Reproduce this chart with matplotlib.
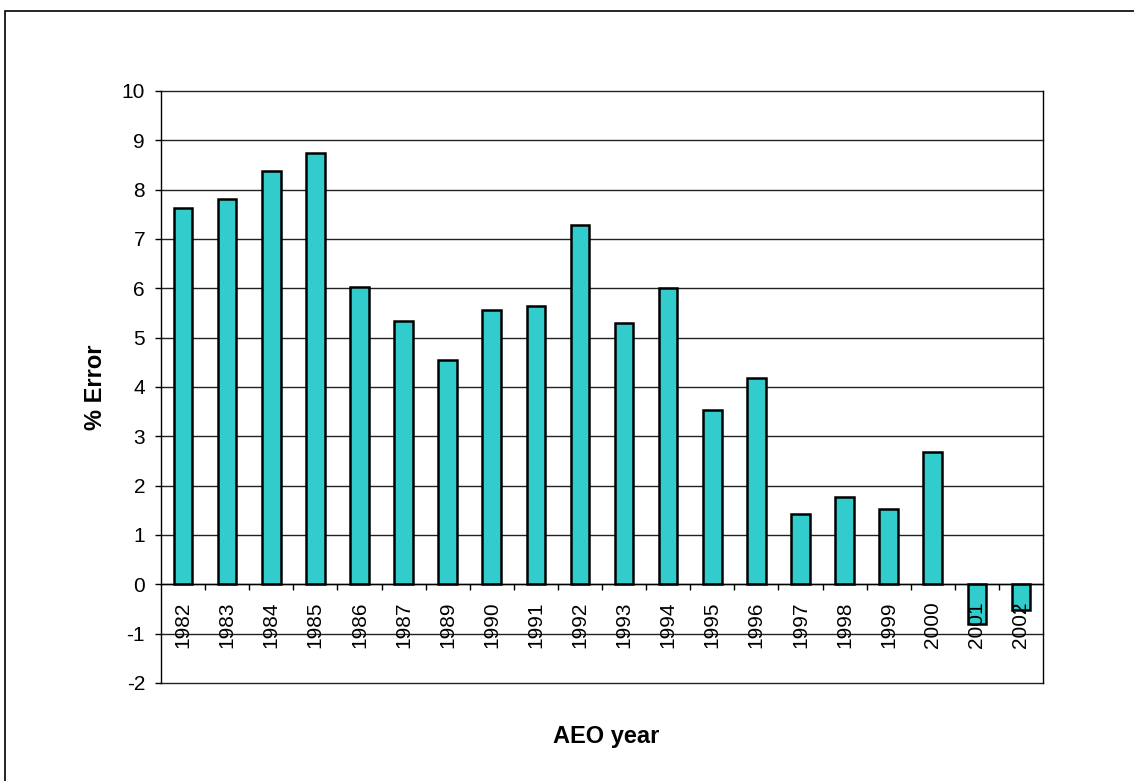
import matplotlib.pyplot as plt
import numpy as np
from matplotlib.patches import Rectangle

years = ['1982', '1983', '1984', '1985', '1986', '1987', '1989', '1990', '1991', '1992',
         '1993', '1994', '1995', '1996', '1997', '1998', '1999', '2000', '2001', '2002']
errors = [7.62, 7.82, 8.38, 8.74, 6.03, 5.33, 4.55, 5.56, 5.64, 7.29,
          5.30, 6.01, 3.53, 4.19, 1.43, 1.78, 1.53, 2.69, -0.80, -0.52]

plt.rcParams['font.family'] = ['Liberation Sans', 'DejaVu Sans']
plt.rcParams['axes.unicode_minus'] = False

fig = plt.figure(figsize=(11.34, 7.81), dpi=100)
ax = fig.add_axes([161 / 1134, 1 - 683 / 781, 882 / 1134, 592 / 781])

# outer chart border
fig.patches.append(Rectangle((5 / 1134, -0.1), 1.2, 1 - 11 / 781 + 0.1,
                             transform=fig.transFigure, fill=False,
                             edgecolor='black', linewidth=1.2))

ax.set_xlim(-0.5, len(years) - 0.5)
ax.set_ylim(-2, 10)
ax.set_yticks(range(-2, 11))

# gridlines drawn by hand so they sit under the bars, tick labels above
for v in range(-2, 11):
    ax.axhline(v, color='#222222', linewidth=1, zorder=1, clip_on=False)

x = np.arange(len(years))
ax.bar(x, errors, width=0.42, color='#33CCCC', edgecolor='black', linewidth=1.8, zorder=2)

ax.spines['top'].set_visible(False)
ax.spines['bottom'].set_position(('data', 0))
for s in ['bottom', 'left', 'right']:
    ax.spines[s].set_linewidth(1)

ax.set_xticks(x)
ax.set_xticklabels(years, rotation=90, fontsize=15)
ax.set_xticks(np.arange(0.5, len(years) - 0.5), minor=True)
ax.tick_params(axis='x', which='major', length=0, pad=12.5)
ax.tick_params(axis='x', which='minor', length=4.5, width=1, direction='out')
ax.tick_params(axis='y', length=4.5, width=1, direction='out', labelsize=15, pad=7)
ax.xaxis.set_zorder(3)

fig.text(95 / 1134, 1 - 387 / 781, '% Error', rotation=90, fontsize=17,
         fontweight='bold', ha='center', va='center')
fig.text(606 / 1134, 1 - 736 / 781, 'AEO year', fontsize=17,
         fontweight='bold', ha='center', va='center')

fig.savefig('out.png', dpi=100)
